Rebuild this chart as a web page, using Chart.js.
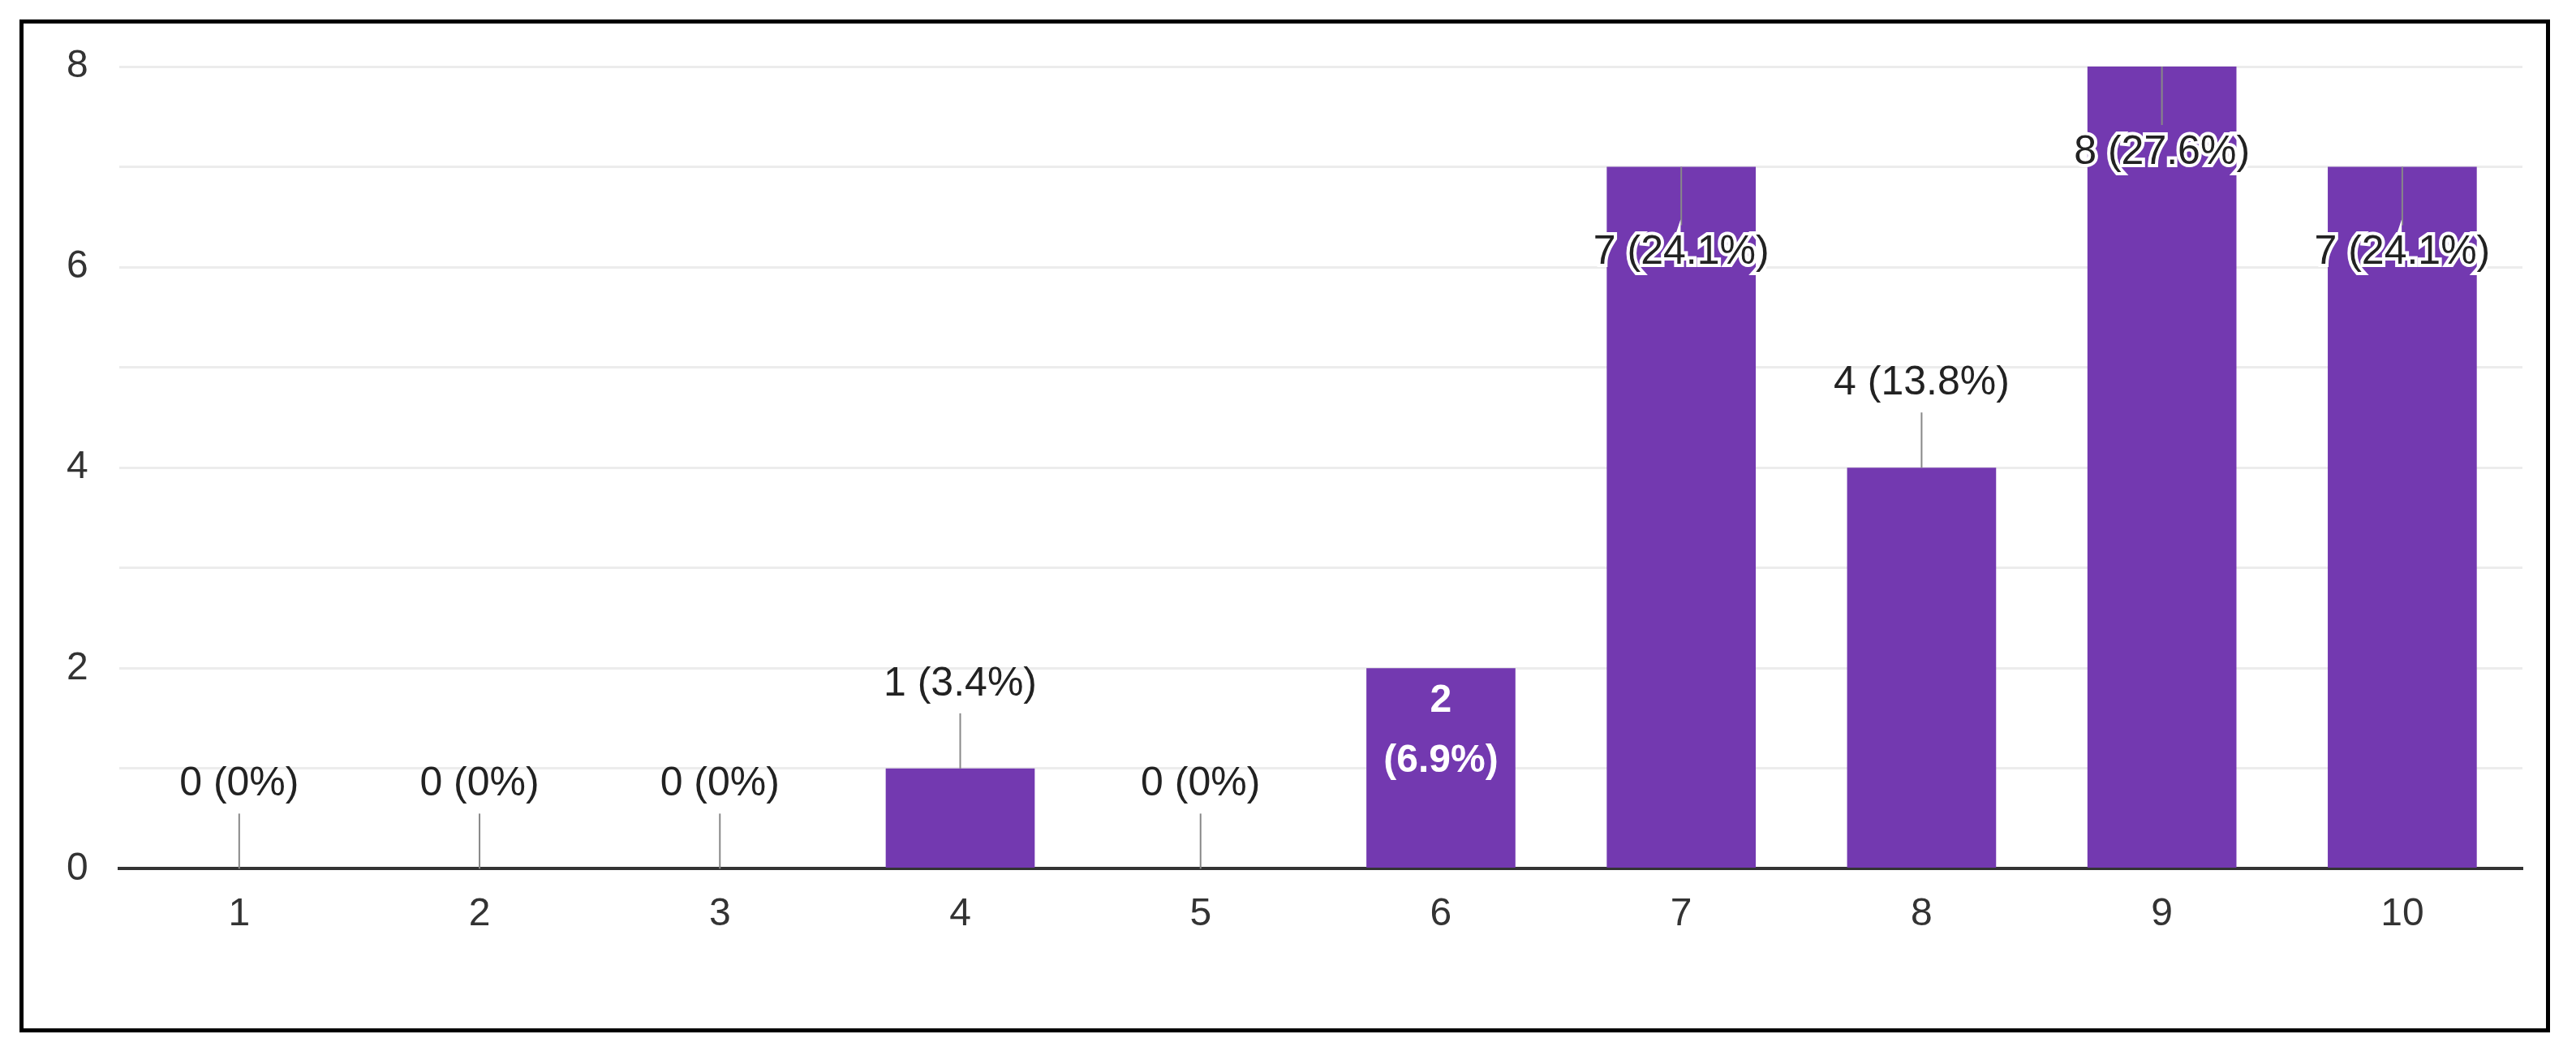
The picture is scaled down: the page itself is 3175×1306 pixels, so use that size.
<!DOCTYPE html>
<html>
<head>
<meta charset="utf-8">
<script src="https://cdn.jsdelivr.net/npm/chart.js@4/dist/chart.umd.min.js"></script>
<style>
  body { margin: 0; background: #fff; }
  #frame { position: absolute; left: 24px; top: 24px; width: 3109px; height: 1238px; border: 5px solid #000; }
  #wrap { position: absolute; left: 0; top: 0; width: 3175px; height: 1306px; }
</style>
</head>
<body>
<div id="frame"></div>
<div id="wrap"><canvas id="myChart"></canvas></div>
<script>
// chart data
const categories = ['1', '2', '3', '4', '5', '6', '7', '8', '9', '10'];
const counts = [0, 0, 0, 1, 0, 2, 7, 4, 8, 7];
const yTickLabels = ['0', '', '2', '', '4', '', '6', '', '8'];

const total = counts.reduce((a, b) => a + b, 0);

// draws "n (p%)" labels with the little leader lines
const valueLabels = {
  id: 'valueLabels',
  afterDatasetsDraw(chart) {
    const ctx = chart.ctx;
    const meta = chart.getDatasetMeta(0);
    const font = '50px "Liberation Sans", Arial, sans-serif';
    ctx.save();
    ctx.font = font;
    ctx.textAlign = 'center';
    ctx.textBaseline = 'middle';
    meta.data.forEach((bar, i) => {
      const v = counts[i];
      const pct = v === 0 ? '0%' : (v / total * 100).toFixed(1) + '%';
      const x = bar.x, top = bar.y;
      ctx.strokeStyle = '#888';
      ctx.lineWidth = 2;
      if (v >= 7) {
        ctx.beginPath(); ctx.moveTo(x, top); ctx.lineTo(x, top + 72); ctx.stroke();
        ctx.lineWidth = 8; ctx.strokeStyle = '#fff'; ctx.fillStyle = '#222';
        ctx.strokeText(v + ' (' + pct + ')', x, top + 106);
        ctx.fillText(v + ' (' + pct + ')', x, top + 106);
      } else if (v === 2) {
        ctx.fillStyle = '#fff';
        ctx.font = 'bold 48px "Liberation Sans", Arial, sans-serif';
        ctx.fillText(String(v), x, top + 40);
        ctx.fillText('(' + pct + ')', x, top + 114);
        ctx.font = font;
      } else {
        ctx.beginPath(); ctx.moveTo(x, top); ctx.lineTo(x, top - 68); ctx.stroke();
        ctx.fillStyle = '#222';
        ctx.fillText(v + ' (' + pct + ')', x, top - 104);
      }
    });
    ctx.restore();
  }
};

new Chart(document.getElementById('myChart'), {
  type: 'bar',
  data: {
    labels: categories,
    datasets: [{
      data: counts,
      backgroundColor: '#7339b0',
      categoryPercentage: 1,
      barPercentage: 0.62
    }]
  },
  options: {
    responsive: true,
    maintainAspectRatio: false,
    animation: false,
    layout: { padding: { left: 44, right: 66, top: 82, bottom: 122 } },
    plugins: { legend: { display: false }, tooltip: { enabled: false } },
    scales: {
      x: {
        grid: { display: false, drawTicks: false },
        border: { color: '#333', width: 4 },
        ticks: { color: '#333', font: { size: 48, family: '"Liberation Sans", Arial' }, padding: 28 }
      },
      y: {
        min: 0, max: 8,
        grid: { color: '#ececec', lineWidth: 3, drawTicks: false },
        border: { display: false },
        ticks: {
          stepSize: 1, autoSkip: false, padding: 38,
          color: '#333', font: { size: 48, family: '"Liberation Sans", Arial' },
          callback: (val, idx) => yTickLabels[idx]
        }
      }
    }
  },
  plugins: [valueLabels]
});
</script>
</body>
</html>
